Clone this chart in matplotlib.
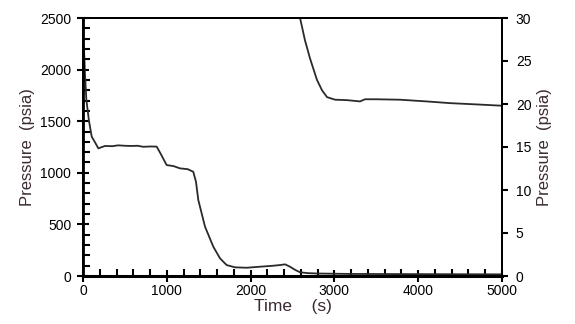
import matplotlib
matplotlib.use('Agg')
import matplotlib.pyplot as plt
from matplotlib.ticker import MultipleLocator

# Left-axis curve (psia, 0-2500)
time_a = [0, 12, 24, 40, 70, 104, 140, 183, 262, 350, 420, 500, 580, 650, 720, 800, 879,
          930, 998, 1080, 1157, 1250, 1316, 1348, 1376, 1456, 1555, 1635, 1714, 1814,
          1953, 2112, 2250, 2351, 2411, 2470, 2530, 2590, 2680, 2800, 3200, 4000, 5000]
pres_a = [2250, 2200, 1950, 1710, 1510, 1350, 1300, 1237, 1260, 1258, 1266, 1262, 1260,
          1262, 1252, 1255, 1254, 1180, 1075, 1065, 1043, 1035, 1010, 914, 736, 478,
          284, 171, 106, 84, 80, 90, 98, 106, 113, 90, 60, 36, 28, 24, 20, 18, 16]

# Right-axis curve (psia, 0-30)
time_b = [2560, 2590, 2649, 2709, 2792, 2852, 2912, 3007, 3150, 3305, 3365, 3500,
          3783, 4100, 4380, 4700, 5000]
pres_b = [33, 30, 27.4, 25.3, 22.8, 21.6, 20.8, 20.5, 20.45, 20.3, 20.55, 20.55,
          20.5, 20.3, 20.1, 19.95, 19.8]

narrow = ['Liberation Sans Narrow', 'Liberation Sans', 'DejaVu Sans']
label_color = '#3a2a33'
line_color = '#2a2a2a'

fig = plt.figure(figsize=(5.75, 3.24), dpi=100)
ax = fig.add_axes([83 / 575, 48 / 324, 419 / 575, 258 / 324])
ax2 = ax.twinx()

ax.plot(time_a, pres_a, color=line_color, lw=1.3)
ax2.plot(time_b, pres_b, color=line_color, lw=1.3)

ax.set_xlim(0, 5000)
ax.set_ylim(0, 2500)
ax2.set_ylim(0, 30)

ax.xaxis.set_major_locator(MultipleLocator(1000))
ax.xaxis.set_minor_locator(MultipleLocator(200))
ax.yaxis.set_major_locator(MultipleLocator(500))
ax.yaxis.set_minor_locator(MultipleLocator(100))
ax2.yaxis.set_major_locator(MultipleLocator(5))

ax.tick_params(which='major', direction='inout', length=9, width=1.5, top=False, right=False)
ax.tick_params(which='minor', direction='in', length=5, width=1.5, top=False, right=False)
ax.tick_params(axis='x', which='major', pad=1)
ax.tick_params(axis='y', which='major', pad=4)
ax2.tick_params(which='major', direction='out', length=4, width=1.5, pad=6)

for a in (ax, ax2):
    for lab in a.get_xticklabels() + a.get_yticklabels():
        lab.set_family(narrow)
        lab.set_fontsize(10)
    for s in a.spines.values():
        s.set_linewidth(1.4)
ax.spines['left'].set_linewidth(2)
ax.spines['bottom'].set_linewidth(2.2)

ax.set_xlabel('Time    (s)', family=narrow, fontsize=12.5, color=label_color, labelpad=1)
ax.set_ylabel('Pressure  (psia)', family=narrow, fontsize=12, color=label_color, labelpad=4)
ax2.set_ylabel('Pressure  (psia)', family=narrow, fontsize=12, color=label_color,
               rotation=90, labelpad=4)

fig.savefig('out.png', dpi=100)
